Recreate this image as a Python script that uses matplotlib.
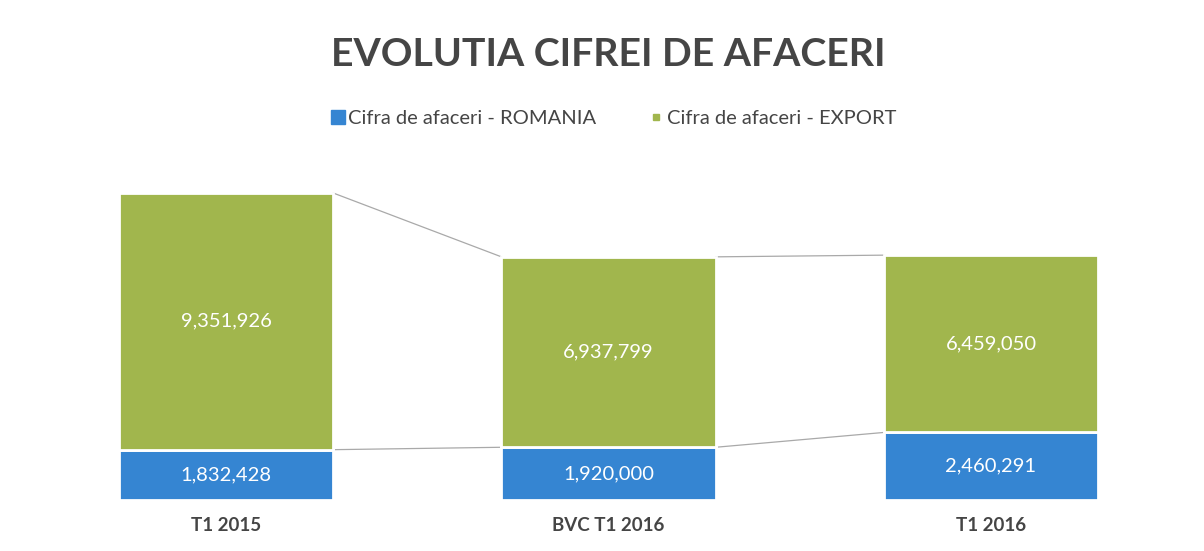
import matplotlib
matplotlib.use("Agg")
import matplotlib.pyplot as plt
from matplotlib.lines import Line2D
import numpy as np

categories = ["T1 2015", "BVC T1 2016", "T1 2016"]
romania = [1832428, 1920000, 2460291]
export = [9351926, 6937799, 6459050]
series_names = ["Cifra de afaceri - ROMANIA", "Cifra de afaceri - EXPORT"]
title = "EVOLUTIA CIFREI DE AFACERI"

BLUE = "#3585D2"
GREEN = "#A1B64D"
TEXT = "#454545"
LINE = "#a9a9a9"
FONT = ["Lato", "DejaVu Sans"]

plt.rcParams["font.family"] = FONT

fig = plt.figure(figsize=(12.04, 5.51), dpi=100)
ax = fig.add_axes([0.0289, 0.0926, 0.953, 0.5978])

x = np.arange(len(categories))
w = 0.56
ro = np.array(romania)
ex = np.array(export)

ax.bar(x, ro, width=w, color=BLUE, edgecolor="white", linewidth=2, zorder=3)
ax.bar(x, ex, width=w, bottom=ro, color=GREEN, edgecolor="white", linewidth=2, zorder=3)

# series lines
tops_blue = ro
tops_green = ro + ex
for i in range(len(x) - 1):
    ax.plot([x[i] + w / 2, x[i + 1] - w / 2], [tops_blue[i], tops_blue[i + 1]],
            color=LINE, lw=0.9, zorder=2)
    ax.plot([x[i] + w / 2, x[i + 1] - w / 2], [tops_green[i], tops_green[i + 1]],
            color=LINE, lw=0.9, zorder=2)

for i in range(len(x)):
    ax.text(x[i], ro[i] / 2, f"{romania[i]:,}", ha="center", va="center",
            color="white", fontsize=14.5, zorder=4)
    ax.text(x[i], ro[i] + ex[i] / 2, f"{export[i]:,}", ha="center", va="center",
            color="white", fontsize=14.5, zorder=4)

ax.set_xlim(-0.5, len(x) - 0.5)
ax.set_ylim(0, 12e6)
ax.set_xticks(x)
ax.set_xticklabels(categories, fontsize=13.5, fontweight="bold", color=TEXT)
ax.tick_params(axis="x", length=0, pad=12)
ax.set_yticks([])
for s in ax.spines.values():
    s.set_visible(False)

t = fig.text(0.505, 1 - 55 / 551, title, ha="center", va="center",
             fontsize=26, fontweight="bold", color=TEXT)
fig.canvas.draw()
bb = t.get_window_extent()
t.set_fontsize(26 * 555 / bb.width)

handles = [
    Line2D([], [], marker="s", linestyle="none", markersize=10, markerfacecolor=BLUE,
           markeredgecolor=BLUE),
    Line2D([], [], marker="s", linestyle="none", markersize=5, markerfacecolor=GREEN,
           markeredgecolor=GREEN),
]
fig.legend(handles, series_names, loc="center", bbox_to_anchor=(0.509, 1 - 118 / 551),
           ncol=2, frameon=False, fontsize=14.5, handletextpad=0.1, columnspacing=2.6,
           labelcolor=TEXT, handlelength=0.8)

fig.savefig("out.png", dpi=100, facecolor="white")
